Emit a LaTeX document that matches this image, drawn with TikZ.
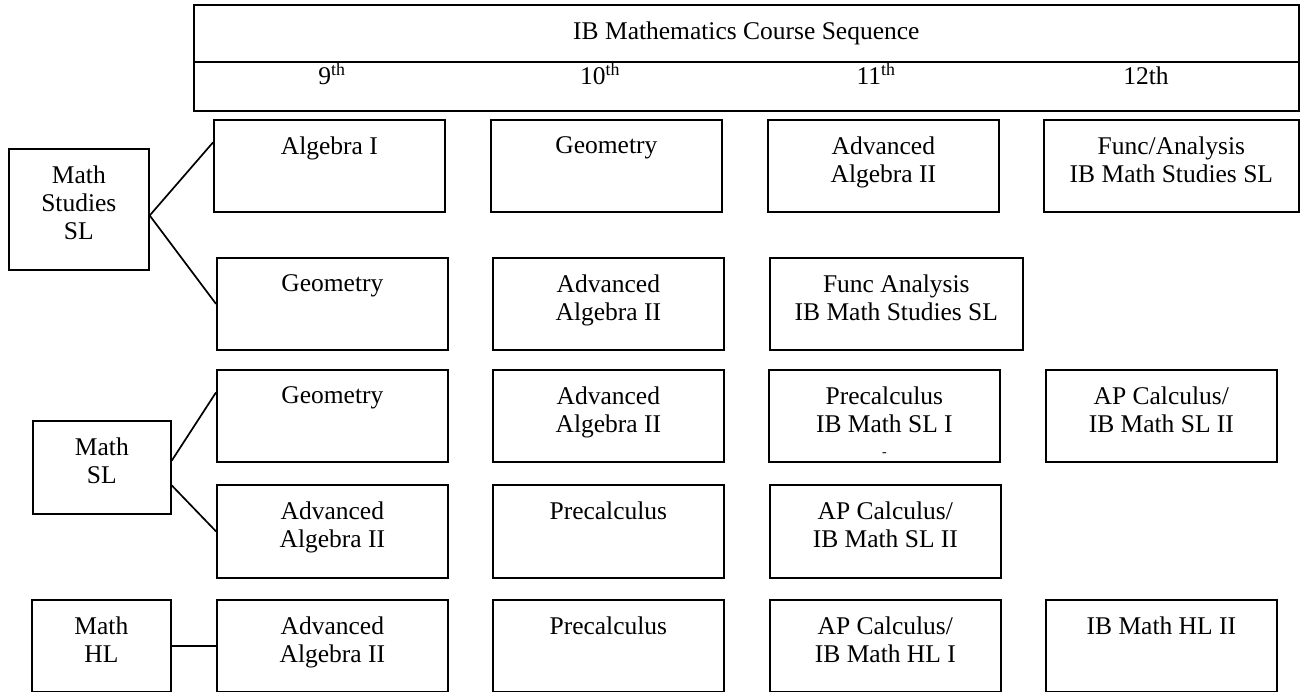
\documentclass[tikz,border=0pt]{standalone}
\usepackage{fontspec}
\setmainfont{Liberation Serif}
\usetikzlibrary{calc}

\newcommand{\boxfont}{\fontsize{25.5}{28.3}\selectfont}

\begin{document}
\begin{tikzpicture}[x=1pt, y=-1pt, line width=1.7pt,
    course/.style={draw, anchor=north west, inner sep=0pt,
      minimum width=231pt, minimum height=92pt},
    widecourse/.style={course, minimum width=255pt},
    track/.style={draw, anchor=north west, inner sep=0pt,
      minimum width=139pt, minimum height=93pt},
    boxtext/.style={anchor=north, align=center, inner sep=0pt,
      yshift=-16.6pt, font=\boxfont},
    grade/.style={anchor=base, inner sep=0pt, font=\boxfont}]
      \useasboundingbox (0,0) rectangle (1301,692);

      \node[draw, anchor=north west, inner sep=0pt,
        minimum width=1105pt, minimum height=106pt,
        label={[boxtext]north:IB Mathematics Course Sequence}] (hdr)
        at (193,4) {};
      \coordinate (divl) at (193,62);
      \coordinate (divr) at (1298,62);
      \draw (divl) -- (divr);
      \node[grade] (g9) at (332,85) {9\textsuperscript{th}};
      \node[grade] (g10) at (600,85) {10\textsuperscript{th}};
      \node[grade] (g11) at (876,85) {11\textsuperscript{th}};
      \node[grade] (g12) at (1146,85) {12th};

      \node[track, minimum width=140pt, minimum height=121pt,
        label={[boxtext]north:Math\\Studies\\SL}] (mss) at (8,148) {};
      \node[track, minimum width=138pt,
        label={[boxtext]north:Math\\SL}] (msl) at (32,420) {};
      \node[track, minimum height=92pt,
        label={[boxtext]north:Math\\HL}] (mhl) at (31,599) {};

      \node[course, label={[boxtext]north:Algebra I}] (a1) at (213,119) {};
      \node[course, label={[boxtext]north:Geometry}] (b1) at (490,119) {};
      \node[course, label={[boxtext]north:Advanced\\Algebra II}] (c1)
        at (767,119) {};
      \node[widecourse,
        label={[boxtext]north:Func/Analysis\\IB Math Studies SL}] (d1)
        at (1043,119) {};

      \node[course, label={[boxtext]north:Geometry}] (a2) at (216,257) {};
      \node[course, label={[boxtext]north:Advanced\\Algebra II}] (b2)
        at (492,257) {};
      \node[widecourse, minimum width=253pt,
        label={[boxtext]north:Func Analysis\\IB Math Studies SL}] (c2)
        at (769,257) {};

      \node[course, label={[boxtext]north:Geometry}] (a3) at (216,369) {};
      \node[course, label={[boxtext]north:Advanced\\Algebra II}] (b3)
        at (492,369) {};
      \node[course,
        label={[boxtext]north:Precalculus\\IB Math SL I\\[-4pt]{\fontsize{14}{20}\selectfont -}}] (c3)
        at (768,369) {};
      \node[course, label={[boxtext]north:AP Calculus/\\IB Math SL II}] (d3)
        at (1045,369) {};

      \node[course, minimum height=93pt,
        label={[boxtext]north:Advanced\\Algebra II}] (a4) at (216,484) {};
      \node[course, minimum height=93pt,
        label={[boxtext]north:Precalculus}] (b4) at (492,484) {};
      \node[course, minimum height=93pt,
        label={[boxtext]north:AP Calculus/\\IB Math SL II}] (c4)
        at (769,484) {};

      \node[course, label={[boxtext]north:Advanced\\Algebra II}] (a5)
        at (216,599) {};
      \node[course, label={[boxtext]north:Precalculus}] (b5) at (492,599) {};
      \node[course, label={[boxtext]north:AP Calculus/\\IB Math HL I}] (c5)
        at (769,599) {};
      \node[course, label={[boxtext]north:IB Math HL II}] (d5)
        at (1045,599) {};

      \draw ($(mss.north east)!0.55!(mss.south east)$)
        -- ($(a1.north west)!0.25!(a1.south west)$);
      \draw ($(mss.north east)!0.55!(mss.south east)$) -- (a2.west);
      \draw ($(msl.north east)!0.43!(msl.south east)$)
        -- ($(a3.north west)!0.25!(a3.south west)$);
      \draw ($(msl.north east)!0.69!(msl.south east)$) -- (a4.west);
      \draw (mhl) -- (a5);
    \end{tikzpicture}
\end{document}
